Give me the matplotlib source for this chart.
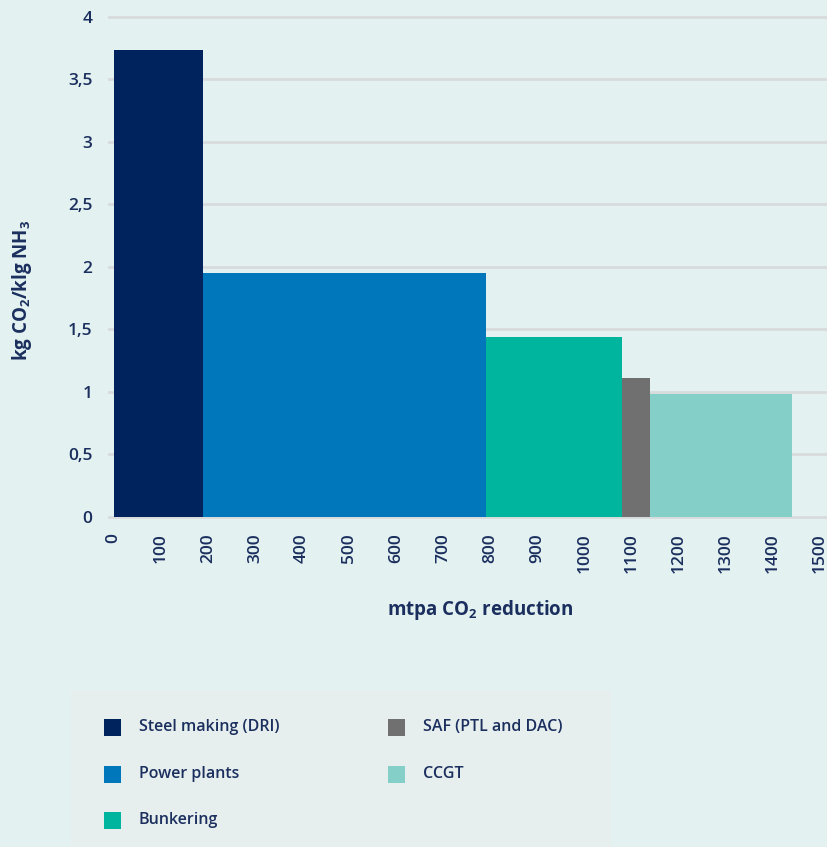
import matplotlib
matplotlib.use("Agg")
import matplotlib.pyplot as plt
from matplotlib.patches import Rectangle
import numpy as np

# Sectors, their ammonia demand (width, mtpa CO2 reduction) and CO2 intensity (height)
sectors = ["Steel making (DRI)", "Power plants", "Bunkering", "SAF (PTL and DAC)", "CCGT"]
reduction_mtpa = [190, 600, 290, 60, 300]
intensity = [3.73, 1.95, 1.44, 1.11, 0.98]
colors = ["#00235d", "#0076bb", "#00b59e", "#707070", "#84d0c9"]

x_ticks = list(range(0, 1501, 100))
y_ticks = [0, 0.5, 1, 1.5, 2, 2.5, 3, 3.5, 4]
y_tick_labels = ["0", "0,5", "1", "1,5", "2", "2,5", "3", "3,5", "4"]

BG = "#e3f1f1"
LEGEND_BG = "#e6eeee"
TEXT = "#1b2f5e"
GRID = "#d8dbdb"

plt.rcParams["font.family"] = ["Open Sans", "DejaVu Sans"]
plt.rcParams["mathtext.fontset"] = "custom"
plt.rcParams["mathtext.rm"] = "Open Sans"

W, H = 827, 847
fig = plt.figure(figsize=(W / 100, H / 100), dpi=100, facecolor=BG)

# axes placed in pixel terms
x0_px, x1_px = 109, 827
y_bot_px, y_top_px = 516.7, 16.7
ax = fig.add_axes([x0_px / W, 1 - y_bot_px / H, (x1_px - x0_px) / W, (y_bot_px - y_top_px) / H])
ax.set_facecolor(BG)
ax.set_xlim(-10, 1515)
ax.set_ylim(0, 4)

lefts = np.concatenate([[0], np.cumsum(reduction_mtpa)[:-1]])
ax.bar(lefts, intensity, width=reduction_mtpa, align="edge", color=colors,
       linewidth=0, zorder=3)

for y in y_ticks:
    ax.axhline(y, color=GRID, linewidth=2, zorder=1, clip_on=False)

for s in ax.spines.values():
    s.set_visible(False)

ax.set_yticks(y_ticks)
ax.set_yticklabels(y_tick_labels)
ax.set_xticks(x_ticks)
ax.set_xticklabels([str(v) for v in x_ticks], rotation=90, va="top")
ax.tick_params(axis="both", length=0, colors=TEXT, labelsize=12.5)
ax.tick_params(axis="y", pad=12)
ax.tick_params(axis="x", pad=12)
for lab in ax.get_xticklabels() + ax.get_yticklabels():
    lab.set_fontweight(600)

fig.text(480 / W, 1 - 610 / H, r"mtpa CO$_\mathregular{2}$ reduction", ha="center",
         va="center", color=TEXT, fontsize=13.5, fontweight="bold")
fig.text(22 / W, 1 - 290 / H, r"kg CO$_\mathregular{2}$/klg NH$_\mathregular{3}$",
         ha="center", va="center", rotation=90, color=TEXT, fontsize=13.5,
         fontweight="bold")

# legend panel
lx0, lx1, ly0 = 71, 611, 690
fig.patches.append(Rectangle((lx0 / W, 0), (lx1 - lx0) / W, 1 - ly0 / H,
                             transform=fig.transFigure, facecolor=LEGEND_BG,
                             edgecolor="none", zorder=0))
col_x = [104, 388]
row_y = [727, 774, 820]
sq = 17
for i, (name, c) in enumerate(zip(sectors, colors)):
    col = 0 if i < 3 else 1
    row = i if i < 3 else i - 3
    cx, cy = col_x[col], row_y[row]
    fig.patches.append(Rectangle((cx / W, 1 - (cy + sq / 2) / H), sq / W, sq / H,
                                 transform=fig.transFigure, facecolor=c,
                                 edgecolor="none", zorder=1))
    fig.text((cx + 35) / W, 1 - cy / H, name, ha="left", va="center",
             color=TEXT, fontsize=11.5, fontweight=600)

fig.savefig("out.png", dpi=100, facecolor=BG)
